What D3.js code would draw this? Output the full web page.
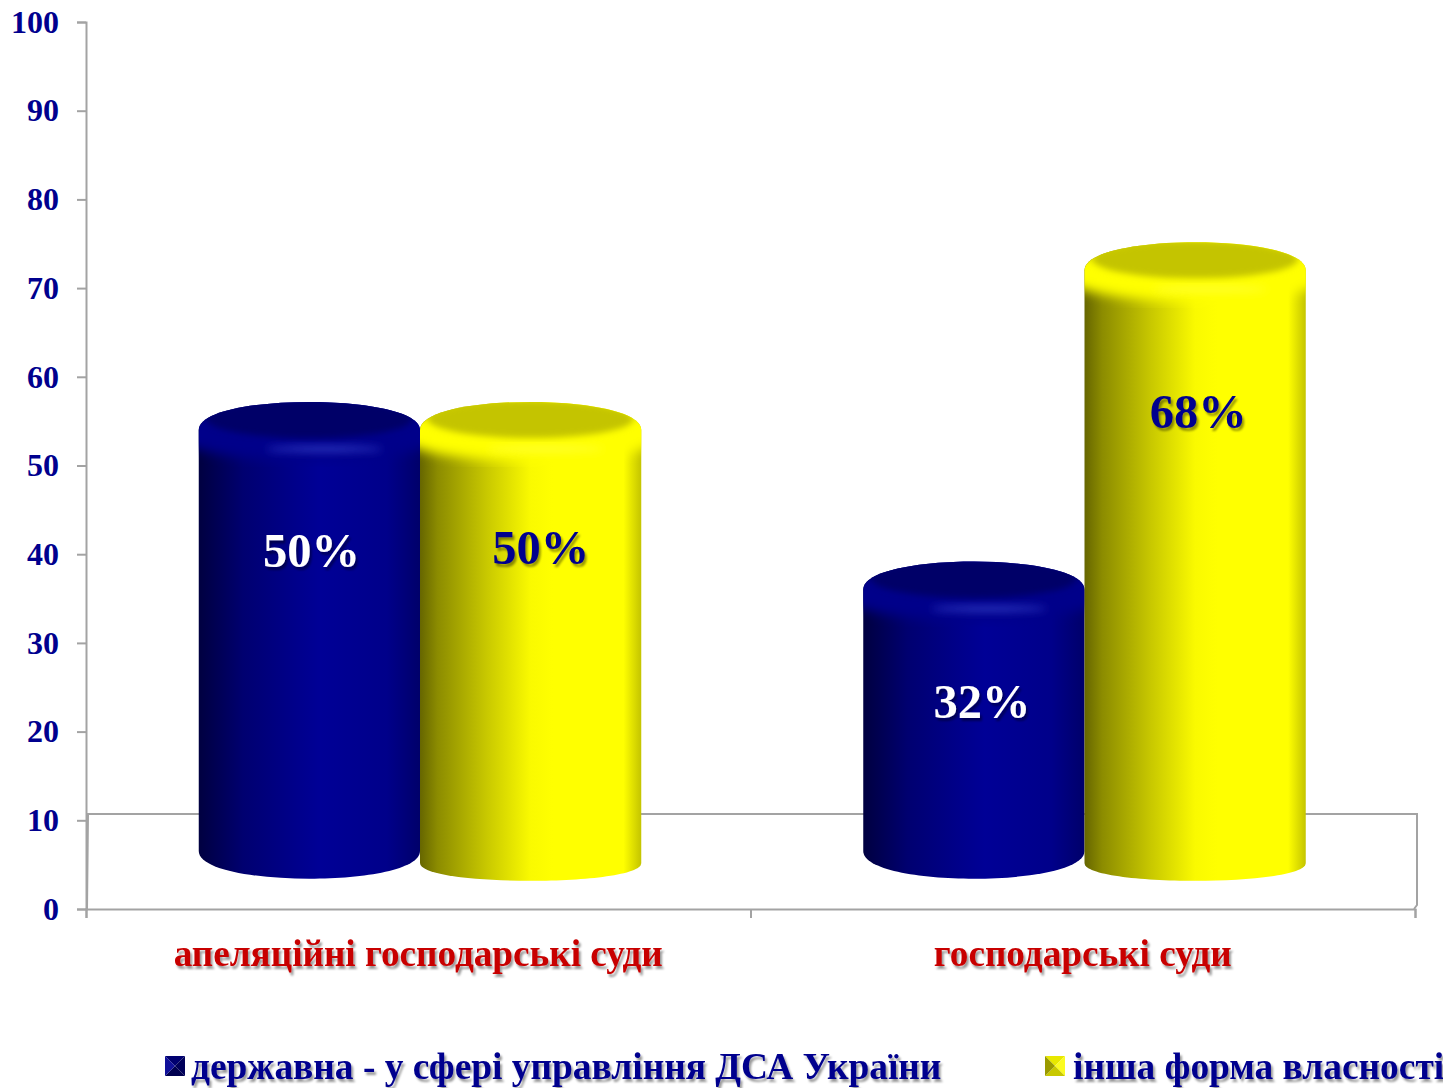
<!DOCTYPE html>
<html>
<head>
<meta charset="utf-8">
<script src="https://cdn.jsdelivr.net/npm/d3@7"></script>
<style>
  body { margin: 0; background: #fff; }
  text { font-family: "Liberation Serif", serif; font-weight: bold; }
</style>
</head>
<body>
<div id="chart"></div>
<script>
var categories = ["апеляційні господарські суди", "господарські суди"];
var seriesNames = ["державна - у сфері управління ДСА України", "інша форма власності"];
var stateValues = [50, 32];
var otherValues = [50, 68];
var valueLabels = ["50%", "32%", "50%", "68%"];
var yTicks = [0, 10, 20, 30, 40, 50, 60, 70, 80, 90, 100];

var width = 1443, height = 1088;
var navy = "#00008e", axisGrey = "#a3a3a3";

var svg = d3.select("#chart").append("svg")
  .attr("width", width)
  .attr("height", height)
  .style("display", "block");

var defs = svg.append("defs");

// soft shadow used on the labels
var shadow = defs.append("filter").attr("id", "shadow")
  .attr("x", "-10%").attr("y", "-20%").attr("width", "120%").attr("height", "150%");
shadow.append("feDropShadow")
  .attr("dx", 2).attr("dy", 3).attr("stdDeviation", 1.3)
  .attr("flood-color", "#000").attr("flood-opacity", 0.4);

defs.append("filter").attr("id", "blur6").append("feGaussianBlur").attr("stdDeviation", 6);
defs.append("filter").attr("id", "blur3").append("feGaussianBlur").attr("stdDeviation", 3);
defs.append("filter").attr("id", "blur4")
  .attr("x", "-30%").attr("y", "-300%").attr("width", "160%").attr("height", "700%")
  .append("feGaussianBlur").attr("stdDeviation", 4);

function sideGradient(id, stops) {
  var g = defs.append("linearGradient").attr("id", id);
  stops.forEach(function(s) {
    g.append("stop").attr("offset", s[0]).attr("stop-color", s[1]);
  });
}
sideGradient("sideBlue", [[0, "#000040"], [0.2, "#000070"], [0.45, "#00008c"], [0.55, "#000096"], [0.85, "#00008a"], [1, "#00006a"]]);
sideGradient("sideYellow", [[0, "#666600"], [0.08, "#8c8c00"], [0.3, "#c8c800"], [0.5, "#fafa00"], [0.6, "#ffff00"], [0.92, "#ffff00"], [1, "#c4c400"]]);

var series = [
  { name: seriesNames[0], values: stateValues, side: "url(#sideBlue)", cap: "#000068", glow: "#3a46d0", labelFill: "#fff", drop: 0, ry: 28, swatch: ["#000070", "#00005a", "#000050", "#10109a"] },
  { name: seriesNames[1], values: otherValues, side: "url(#sideYellow)", cap: "#c4c400", glow: "#ffff40", labelFill: navy, drop: 12, ry: 18, swatch: ["#e8e800", "#fbfb20", "#c8c800", "#9a9a00"] }
];

var y = d3.scaleLinear().domain([0, 100]).range([909, 22]);

var xEdge = d3.scaleLinear().domain([0, 2]).range([86, 1415]);

var x0 = d3.scaleBand().domain(categories).range([86, 1415]);

var x1 = d3.scaleBand().domain([0, 1]).range([-219.5, 223]);

// floor of the 3d plot
svg.append("path")
  .attr("d", d3.line()([[87, 909], [88, 814], [1417, 814], [1417, 905], [1414, 909]]))
  .attr("fill", "none")
  .attr("stroke", axisGrey)
  .attr("stroke-width", 2);

var yAxis = svg.append("g")
  .attr("transform", "translate(86,0)")
  .call(d3.axisLeft(y).tickValues(yTicks).tickSize(9).tickPadding(18));

var xAxis = svg.append("g")
  .attr("transform", "translate(0,909)")
  .call(d3.axisBottom(xEdge).tickValues([0, 1, 2]).tickSize(9).tickFormat(""));

[yAxis, xAxis].forEach(function(a) {
  a.selectAll("path, line").attr("stroke", axisGrey).attr("stroke-width", 2);
});

yAxis.selectAll("text")
  .attr("fill", navy)
  .style("font-size", "32px");

// x labels
svg.selectAll(".cat")
  .data(categories)
  .enter().append("text")
  .attr("class", "cat")
  .attr("x", function(d) { return x0(d) + x0.bandwidth() / 2; })
  .attr("y", 966)
  .attr("text-anchor", "middle")
  .attr("fill", "#c80000")
  .style("font-size", "37.2px")
  .attr("filter", "url(#shadow)")
  .text(function(d) { return d; });

// cylinders
var rx = x1.bandwidth() / 2;
var capRy = 25;
var capLift = 38.5;   // cap sits above the axis value because of the 3d view
var baseY = 851;

var bars = [];
series.forEach(function(s, si) {
  s.values.forEach(function(v, ci) {
    bars.push({ s: s, si: si, ci: ci, v: v });
  });
});

bars.forEach(function(b, i) {
  var cx = x0(categories[b.ci]) + x0.bandwidth() / 2 + x1(b.si) + rx;
  var capY = y(b.v) - capLift;
  var bottom = baseY + b.s.drop;
  var g = svg.append("g");

  var body = d3.path();
  body.moveTo(cx - rx, capY + 3);
  body.bezierCurveTo(cx - rx, capY - capRy * 1.38, cx + rx, capY - capRy * 1.38, cx + rx, capY + 3);
  body.lineTo(cx + rx, bottom);
  body.bezierCurveTo(cx + rx, bottom + b.s.ry * 1.32, cx - rx, bottom + b.s.ry * 1.32, cx - rx, bottom);
  body.closePath();

  var clipId = "clip" + i;
  defs.append("clipPath").attr("id", clipId).append("path").attr("d", body.toString());

  g.append("path").attr("d", body.toString()).attr("fill", b.s.side);

  var top = g.append("g").attr("clip-path", "url(#" + clipId + ")");

  // rim colour of the bevel, fades into the side below
  top.append("ellipse")
    .attr("cx", cx).attr("cy", capY + 5)
    .attr("rx", rx * 1.25).attr("ry", capRy + 4)
    .attr("fill", b.si === 0 ? "#00008a" : "#ffff00")
    .attr("filter", "url(#blur6)");

  top.append("ellipse")
    .attr("cx", cx + 15).attr("cy", capY + 22)
    .attr("rx", 58).attr("ry", 3)
    .attr("fill", b.s.glow)
    .attr("opacity", 0.8)
    .attr("filter", "url(#blur4)");

  top.append("ellipse")
    .attr("cx", cx).attr("cy", capY - 8)
    .attr("rx", rx * 0.93).attr("ry", capRy - 6)
    .attr("fill", b.s.cap)
    .attr("filter", "url(#blur3)");
});

// value labels, moved by hand in the original slide
var labelNudge = [[2, 101], [8, 93], [10, 98], [3, 122]];
bars.forEach(function(b, i) {
  var cx = x0(categories[b.ci]) + x0.bandwidth() / 2 + x1(b.si) + rx;
  svg.append("text")
    .attr("x", cx + labelNudge[i][0])
    .attr("y", y(b.v) + labelNudge[i][1])
    .attr("text-anchor", "middle")
    .attr("fill", b.s.labelFill)
    .style("font-size", "48.5px")
    .attr("filter", "url(#shadow)")
    .text(valueLabels[i]);
});

// legend
var legendX = [165, 1045];
var sw = 20;
series.forEach(function(s, i) {
  var lx = legendX[i], ly = 1056;
  var c = [lx + sw / 2, ly + sw / 2];
  var corners = [[lx, ly], [lx + sw, ly], [lx + sw, ly + sw], [lx, ly + sw]];
  var g = svg.append("g");
  s.swatch.forEach(function(col, k) {
    var n = (k + 1) % 4;
    g.append("polygon")
      .attr("points", [corners[k], corners[n], c].join(" "))
      .attr("fill", col);
  });
  g.append("text")
    .attr("x", lx + sw + 6 + (i === 1 ? 2 : 0))
    .attr("y", 1079)
    .attr("fill", navy)
    .style("font-size", "37.4px")
    .attr("filter", "url(#shadow)")
    .text(s.name);
});
</script>
</body>
</html>
